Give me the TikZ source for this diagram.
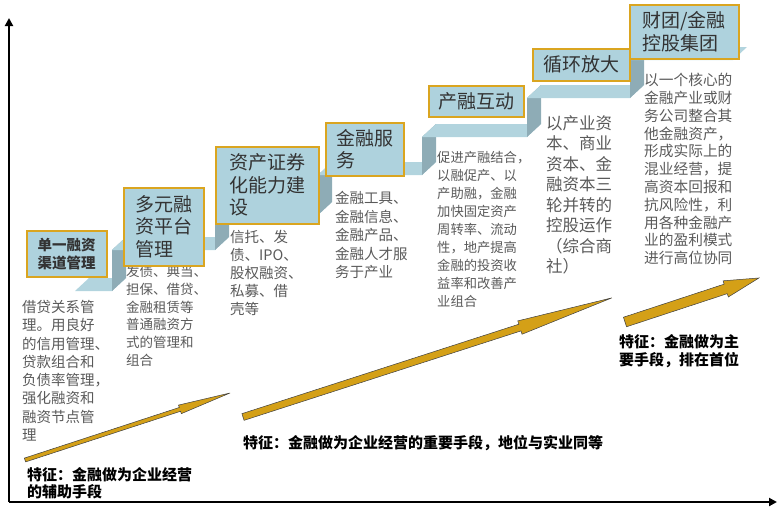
\documentclass[tikz,border=0pt]{standalone}
\usepackage{fontspec}
\setmainfont{Noto Sans CJK SC}
\usetikzlibrary{arrows.meta}

\definecolor{treadblue}{RGB}{178,212,222}
\definecolor{riserblue}{RGB}{142,172,182}
\definecolor{boxblue}{RGB}{174,210,221}
\definecolor{boxgold}{RGB}{218,165,32}
\definecolor{arrowgold}{RGB}{212,160,23}
\definecolor{desctext}{RGB}{90,90,90}

\tikzset{
	stagebox/.style = {draw = boxgold, line width = 1.5pt, fill = boxblue, anchor = north west, inner sep = 0pt, text = black!80, align = left, font = \fontsize{19}{22.5}\selectfont},
	desc/.style = {anchor = north west, inner sep = 0pt, text = desctext, align = left},
	feature/.style = {anchor = north west, inner sep = 0pt, align = left, font = \bfseries\fontsize{15}{17.5}\selectfont},
	tread/.style = {fill = treadblue},
	riser/.style = {fill = riserblue},
	goldarrow/.style = {fill = arrowgold, draw = black!75, line width = 0.5pt},
	axis/.style = {line width = 2.5pt, -{Triangle[width = 8pt, length = 8pt]}}
}

\begin{document}
\begin{tikzpicture}[x = 1pt, y = -1pt]
	
		\useasboundingbox (0, 0) rectangle (780, 515);
	
		\coordinate (origin) at (9, 502);
		\draw[axis] (origin) -- (9, 18);
		\draw[axis] (origin) -- (777, 502);
		
		% staircase
		\fill[tread] (75, 291) -- (112, 291) -- (126, 278) -- (89, 278) -- cycle;
		\fill[riser] (112, 291) -- (112, 250) -- (126, 237) -- (126, 278) -- cycle;
		\fill[tread] (112, 250) -- (215, 250) -- (229, 237) -- (126, 237) -- cycle;
		\fill[riser] (215, 250) -- (215, 215) -- (229, 202) -- (229, 237) -- cycle;
		\fill[tread] (215, 215) -- (318, 215) -- (332, 202) -- (229, 202) -- cycle;
		\fill[riser] (318, 215) -- (318, 175) -- (332, 162) -- (332, 202) -- cycle;
		\fill[tread] (318, 175) -- (422, 175) -- (436, 162) -- (332, 162) -- cycle;
		\fill[riser] (422, 175) -- (422, 137) -- (436, 124) -- (436, 162) -- cycle;
		\fill[tread] (422, 137) -- (527, 137) -- (541, 124) -- (436, 124) -- cycle;
		\fill[riser] (527, 137) -- (527, 98) -- (541, 85) -- (541, 124) -- cycle;
		\fill[tread] (527, 98) -- (630, 98) -- (644, 85) -- (541, 85) -- cycle;
		\fill[riser] (630, 98) -- (630, 60) -- (644, 47) -- (644, 85) -- cycle;
		\fill[tread] (630, 60) -- (733, 60) -- (747, 47) -- (644, 47) -- cycle;
		
		\node[desc, font = \fontsize{14.5}{18.3}\selectfont] (d1) at (22, 300) {借贷关系管\\理。用良好\\的信用管理、\\贷款组合和\\负债率管理，\\强化融资和\\融资节点管\\理};
		\node[desc, font = \fontsize{13.5}{17.7}\selectfont] (d2) at (126, 265) {发债、典当、\\担保、借贷、\\金融租赁等\\普通融资方\\式的管理和\\组合};
		\node[desc, font = \fontsize{14.5}{18}\selectfont] (d3) at (230, 230) {信托、发\\债、IPO、\\股权融资、\\私募、借\\壳等};
		\node[desc, font = \fontsize{14.5}{18.5}\selectfont] (d4) at (335, 191) {金融工具、\\金融信息、\\金融产品、\\金融人才服\\务于产业};
		\node[desc, font = \fontsize{13.3}{18}\selectfont] (d5) at (437, 151) {促进产融结合，\\以融促产、以\\产助融，金融\\加快固定资产\\周转率、流动\\性，地产提高\\金融的投资收\\益率和改善产\\业组合};
		\node[desc, font = \fontsize{16.5}{20.5}\selectfont] (d6) at (546, 115) {以产业资\\本、商业\\资本、金\\融资本三\\轮并转的\\控股运作\\（综合商\\社）};
		\node[desc, font = \fontsize{14.7}{17.8}\selectfont] (d7) at (644, 73) {以一个核心的\\金融产业或财\\务公司整合其\\他金融资产，\\形成实际上的\\混业经营，提\\高资本回报和\\抗风险性，利\\用各种金融产\\业的盈利模式\\进行高位协同};
		
		\node[stagebox, minimum width = 80, minimum height = 46, align = center, font = \bfseries\fontsize{14.5}{18}\selectfont] (b1) at (26, 230) {单一融资\\渠道管理};
		\node[stagebox, minimum width = 80, minimum height = 78] (b2) at (123, 187) {多元融\\资平台\\管理};
		\node[stagebox, minimum width = 103, minimum height = 77] (b3) at (215, 146) {资产证券\\化能力建\\设};
		\node[stagebox, minimum width = 78, minimum height = 53] (b4) at (325, 122) {金融服\\务};
		\node[stagebox, minimum width = 95, minimum height = 31] (b5) at (428, 85) {产融互动};
		\node[stagebox, minimum width = 97, minimum height = 32] (b6) at (532, 48) {循环放大};
		\node[stagebox, minimum width = 109, minimum height = 54] (b7) at (629, 4) {财团/金融\\控股集团};
		
		\draw[goldarrow, shift = {(25, 460)}, rotate = 18.1] (0, -2) -- (163, -2) -- (163, -4.5) -- (215.7, 0) -- (163, 4.5) -- (163, 2) -- (0, 2) -- cycle;
		\draw[goldarrow, shift = {(243, 417)}, rotate = 17.9] (0, -3.5) -- (291, -3.5) -- (291, -7) -- (387.7, 0) -- (291, 7) -- (291, 3.5) -- (0, 3.5) -- cycle;
		\draw[goldarrow, shift = {(625, 322)}, rotate = 18.2] (0, -5) -- (106, -5) -- (106, -8.5) -- (141, 0) -- (106, 8.5) -- (106, 5) -- (0, 5) -- cycle;
		
		\node[feature] (f1) at (27, 467) {特征：金融做为企业经营\\的辅助手段};
		\node[feature] (f2) at (243, 435) {特征：金融做为企业经营的重要手段，地位与实业同等};
		\node[feature, font = \bfseries\fontsize{15}{18}\selectfont] (f3) at (619, 334) {特征：金融做为主\\要手段，排在首位};
		
	\end{tikzpicture}
\end{document}
